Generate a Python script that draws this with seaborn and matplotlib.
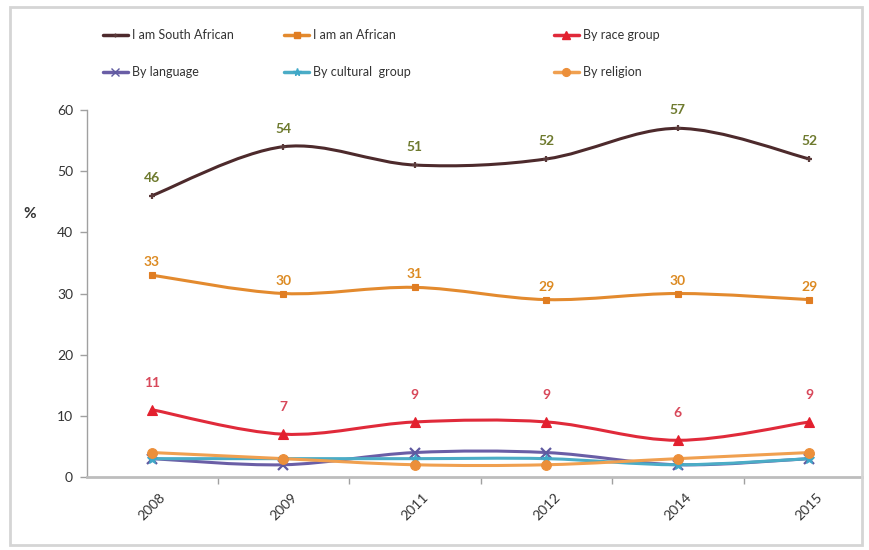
import numpy as np
import pandas as pd
import matplotlib
matplotlib.use("Agg")
import matplotlib.pyplot as plt
import seaborn as sns
from matplotlib.path import Path
from matplotlib.patches import PathPatch, Rectangle
from matplotlib.lines import Line2D

years = ["2008", "2009", "2011", "2012", "2014", "2015"]
south_african = [46, 54, 51, 52, 57, 52]
african = [33, 30, 31, 29, 30, 29]
race_group = [11, 7, 9, 9, 6, 9]
language = [3, 2, 4, 4, 2, 3]
cultural_group = [3, 3, 3, 3, 2, 3]
religion = [4, 3, 2, 2, 3, 4]

series_names = ["I am South African", "I am an African", "By race group",
                "By language", "By cultural  group", "By religion"]
series_values = [south_african, african, race_group, language, cultural_group, religion]
line_colors = ["#4d2a2c", "#e38a2e", "#e02a3a", "#6a5ea6", "#4bacc6", "#f0a050"]
marker_colors = ["#5a3a3a", "#e07d22", "#e3202e", "#5f5aa0", "#3fa8c8", "#ec8f3a"]
markers = ["+", "s", "^", "x", "*", "o"]
marker_sizes = [4, 5, 7, 7, 7, 7]
label_colors = ["#6e7a2e", "#dc8a22", "#d8485a", None, None, None]

sns.set_theme(style="white")
plt.rcParams["font.family"] = ["Lato", "DejaVu Sans"]

fig = plt.figure(figsize=(8.7, 5.5), dpi=100)
W, H = 870, 550
ax = fig.add_axes([87 / W, 1 - 477 / H, (862 - 87) / W, (477 - 110) / H])

xs = np.arange(len(years))


def smooth_path(x, y):
    pts = np.column_stack([x, y]).astype(float)
    n = len(pts)
    verts = [pts[0]]
    codes = [Path.MOVETO]
    for i in range(n - 1):
        p0 = pts[i - 1] if i > 0 else pts[i]
        p1 = pts[i]
        p2 = pts[i + 1]
        p3 = pts[i + 2] if i + 2 < n else pts[i + 1]
        c1 = p1 + (p2 - p0) / 6.0
        c2 = p2 - (p3 - p1) / 6.0
        verts += [c1, c2, p2]
        codes += [Path.CURVE4] * 3
    return Path(verts, codes)


order = [5, 4, 3, 2, 1, 0]
for i in order:
    vals = series_values[i]
    ax.add_patch(PathPatch(smooth_path(xs, vals), facecolor="none",
                           edgecolor=line_colors[i], lw=2.2, zorder=2 + i * 0.1,
                           capstyle="round", joinstyle="round"))
    df = pd.DataFrame({"x": xs, "y": vals})
    sns.lineplot(data=df, x="x", y="y", ax=ax, linestyle="none",
                 marker=markers[i], markersize=marker_sizes[i],
                 color=marker_colors[i], markeredgecolor=marker_colors[i],
                 markeredgewidth=1.6 if markers[i] in ["+", "x"] else 0.8,
                 zorder=3 + i * 0.1)

offsets = [18, 13, 27]
for i in range(3):
    for xi, v in zip(xs, series_values[i]):
        ax.annotate(str(v), (xi, v), xytext=(0, offsets[i]), textcoords="offset pixels",
                    ha="center", va="center", fontsize=10, color=label_colors[i],
                    fontweight="bold", zorder=5)

ax.set_xlim(-0.494, 5.4)
ax.set_ylim(0, 60)
ax.set_yticks(range(0, 61, 10))
ax.set_xticks(xs)
ax.set_xticklabels(years, rotation=45, ha="center", fontsize=10, color="#333333")
ax.tick_params(axis="x", length=0, pad=10)
ax.set_xticks(np.arange(0.5, 5.5, 1.0), minor=True)
ax.tick_params(axis="x", which="minor", length=5, width=1, color="#a0a0a0", direction="out", bottom=True)
ax.tick_params(axis="y", length=5, width=1, color="#a0a0a0", direction="out", left=True,
               labelsize=10, labelcolor="#333333", pad=5)
ax.set_xlabel("")
ax.set_ylabel("")
fig.text(30 / W, 1 - 214 / H, "%", fontsize=11, fontweight="bold", color="#333333",
         ha="center", va="center")
for s in ["top", "right"]:
    ax.spines[s].set_visible(False)
ax.spines["left"].set_color("#a0a0a0")
ax.spines["bottom"].set_color("#bdbdbd")
ax.spines["bottom"].set_linewidth(2)
ax.spines["left"].set_linewidth(1)

cols = [(0, 3), (1, 4), (2, 5)]
col_x = [103, 284, 554]
for (a, b), cx in zip(cols, col_x):
    handles = [Line2D([], [], color=line_colors[k], marker=markers[k],
                      markersize=marker_sizes[k] * 0.8, markerfacecolor=marker_colors[k],
                      markeredgecolor=marker_colors[k], lw=2.5) for k in (a, b)]
    fig.legend(handles, [series_names[a], series_names[b]], loc="upper left",
               bbox_to_anchor=(cx / W, 1 - 29 / H), frameon=False, fontsize=9,
               handlelength=2.0, handletextpad=0.3, labelspacing=2.0,
               borderpad=0, borderaxespad=0, labelcolor="#333333")

fig.patches.append(Rectangle((10 / W, 5 / H), 852 / W, 538 / H, transform=fig.transFigure,
                             facecolor="none", edgecolor="#d5d5d5", lw=2))

fig.savefig("out.png", dpi=100)
